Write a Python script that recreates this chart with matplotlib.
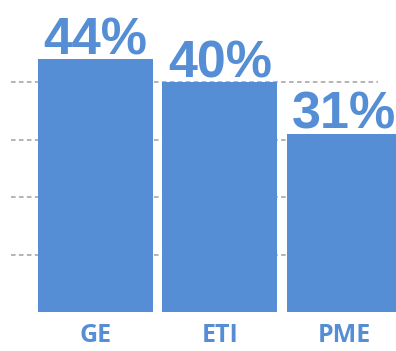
import matplotlib.pyplot as plt
import numpy as np

categories = ["GE", "ETI", "PME"]
values = [44, 40, 31]
grid_levels = [10, 20, 30, 40]

blue = "#558ED5"

fig = plt.figure(figsize=(3.96, 3.51), dpi=100)
ax = fig.add_axes([0, 0, 1, 1])
ax.set_axis_off()

x = np.arange(len(categories))

# dashed reference lines behind the bars
ax.hlines(grid_levels, -0.68, 2.27, colors="#A0A0A0", linestyles=(0, (3, 2.2)),
          linewidth=1.1, zorder=1)

ax.bar(x, values, width=0.924, color=blue, zorder=2)

for xi, v in zip(x, values):
    ax.text(xi, v + 0.85, f"{v}%", ha="center", va="baseline",
            fontsize=37.5, fontweight="bold", color=blue,
            family="Liberation Sans", zorder=3)

for xi, c in zip(x, categories):
    ax.text(xi, -5.3, c, ha="center", va="baseline", fontsize=18,
            fontweight="bold", color=blue, family="Open Sans")

ax.set_xlim(-0.767, 2.414)
ax.set_ylim(-6.78, 54.26)

fig.savefig("out.png", dpi=100)
